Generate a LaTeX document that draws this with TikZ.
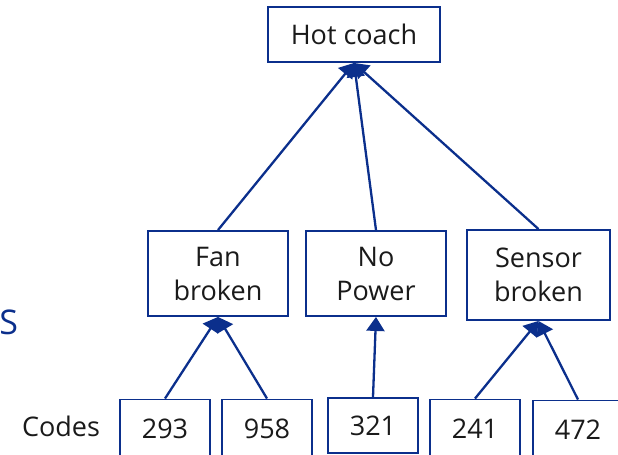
\documentclass[tikz,border=0pt]{standalone}
\usepackage{fontspec}
\setmainfont{Open Sans}
\usetikzlibrary{arrows.meta}
\definecolor{treeblue}{HTML}{0B2F8C}
\definecolor{treetext}{HTML}{1A1A1A}

\begin{document}
\begin{tikzpicture}[
  x=0.5pt, y=-0.5pt,
  font=\fontsize{13.5}{17}\selectfont,
  box/.style={draw=treeblue, line width=0.95pt, fill=white, text=treetext,
              align=center, inner sep=2pt},
  causebox/.style={box, minimum width=70pt, minimum height=42.5pt},
  codebox/.style={box, minimum width=45pt, minimum height=29pt},
  arr/.style={-{Triangle[length=7pt, width=9pt]}, line width=1.15pt, draw=treeblue}
]
\clip (0,0) rectangle (618,455);
\node[box, minimum width=86pt, minimum height=27.5pt] (hot) at (354,34.5) {Hot coach};
\node[causebox] (fan) at (218,273.5) {Fan\\broken};
\node[causebox] (power) at (376,273.5) {No\\Power};
\node[causebox, minimum width=71.5pt, minimum height=45pt] (sensor) at (538.5,275) {Sensor\\broken};
\node[codebox] (c293) at (165,428.5) {293};
\node[codebox] (c958) at (267,428.5) {958};
\node[codebox, minimum height=27.5pt] (c321) at (373,425.5) {321};
\node[codebox] (c241) at (475,428.5) {241};
\node[codebox] (c472) at (578,429.5) {472};
\node[text=treetext] (codes) at (61,426) {Codes};
\node[text=treeblue, anchor=west, inner sep=0pt, font=\fontsize{17}{20}\selectfont] (cut) at (-1,322) {S};
\draw[arr] (fan.north) -- (hot.south);
\draw[arr] (power.north) -- (hot.south);
\draw[arr] (sensor.north) -- (hot.south);
\draw[arr] (c293.north) -- (fan.south);
\draw[arr] (c958.north) -- (fan.south);
\draw[arr] (c321.north) -- (power.south);
\draw[arr] (c241.north) -- (sensor.south);
\draw[arr] (c472.north) -- (sensor.south);
\end{tikzpicture}
\end{document}
